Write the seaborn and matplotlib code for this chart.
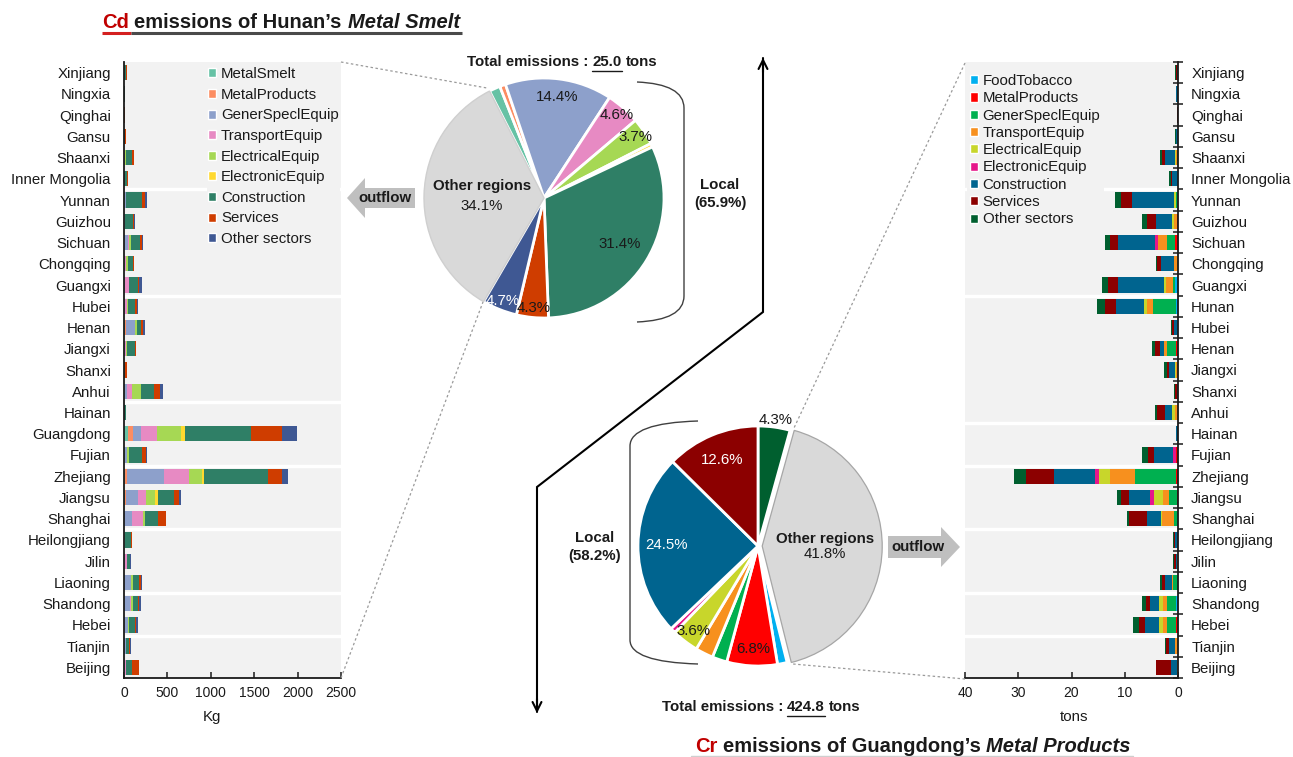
import numpy as np
import pandas as pd
import matplotlib
matplotlib.use("Agg")
import matplotlib.pyplot as plt
import seaborn as sns
from matplotlib.patches import Patch, Polygon, PathPatch
from matplotlib.path import Path
from matplotlib.ticker import FixedLocator

# ---------------- data ----------------
sectors = ["MetalSmelt", "MetalProducts", "GenerSpeclEquip", "TransportEquip",
           "ElectricalEquip", "ElectronicEquip", "Construction", "Services", "Other sectors"]
cr_sectors = ["FoodTobacco", "MetalProducts", "GenerSpeclEquip", "TransportEquip",
              "ElectricalEquip", "ElectronicEquip", "Construction", "Services", "Other sectors"]

# Cd embodied in Hunan's metal smelting, consumed in other regions (kg)
cd_regions = ["Xinjiang", "Ningxia", "Qinghai", "Gansu", "Shaanxi", "Inner Mongolia",
              "Yunnan", "Guizhou", "Sichuan", "Chongqing", "Guangxi",
              "Hubei", "Henan", "Jiangxi", "Shanxi", "Anhui",
              "Hainan", "Guangdong", "Fujian",
              "Zhejiang", "Jiangsu", "Shanghai",
              "Heilongjiang", "Jilin", "Liaoning",
              "Shandong", "Hebei", "Tianjin", "Beijing"]
cd_metal_smelt = [0, 0, 0, 0, 3, 0, 15, 5, 5, 3, 8, 5, 8, 3, 0, 12, 0, 50, 10, 10, 8, 5, 8, 5, 5, 5, 5, 5, 5]
cd_metal_products = [0, 0, 0, 0, 0, 0, 0, 0, 0, 0, 0, 0, 15, 0, 0, 0, 0, 50, 0, 20, 15, 0, 0, 0, 0, 0, 0, 0, 0]
cd_gener_specl = [0, 0, 0, 0, 5, 0, 5, 3, 38, 5, 5, 8, 100, 5, 0, 25, 0, 92, 25, 432, 138, 85, 5, 5, 75, 60, 40, 15, 5]
cd_transport = [0, 0, 0, 0, 8, 3, 0, 5, 20, 18, 40, 22, 8, 15, 0, 60, 0, 188, 5, 288, 92, 134, 0, 27, 5, 18, 0, 0, 15]
cd_electrical = [0, 0, 0, 0, 5, 0, 3, 3, 15, 15, 3, 8, 20, 10, 0, 95, 0, 273, 12, 150, 108, 15, 0, 0, 20, 22, 12, 8, 0]
cd_electronic = [0, 0, 0, 0, 0, 0, 0, 0, 3, 0, 0, 0, 0, 0, 0, 3, 0, 54, 3, 18, 25, 0, 0, 0, 0, 0, 0, 0, 0]
cd_construction = [20, 10, 5, 15, 70, 30, 190, 85, 103, 60, 100, 88, 40, 95, 12, 150, 18, 757, 155, 745, 188, 150, 70, 27, 70, 55, 65, 35, 65]
cd_services = [10, 3, 2, 7, 20, 12, 27, 18, 25, 12, 16, 15, 25, 5, 18, 70, 2, 353, 38, 154, 65, 95, 8, 10, 18, 18, 15, 10, 88]
cd_other = [5, 2, 1, 3, 4, 5, 27, 6, 10, 5, 30, 12, 22, 8, 5, 30, 2, 180, 22, 73, 18, 0, 2, 5, 10, 22, 22, 5, 0]

# Cr embodied in Guangdong's metal products, consumed in other regions (tons)
cr_regions = ["Xinjiang", "Ningxia", "Qinghai", "Gansu", "Shaanxi", "Inner Mongolia",
              "Yunnan", "Guizhou", "Sichuan", "Chongqing", "Guangxi",
              "Hunan", "Hubei", "Henan", "Jiangxi", "Shanxi", "Anhui",
              "Hainan", "Fujian",
              "Zhejiang", "Jiangsu", "Shanghai",
              "Heilongjiang", "Jilin", "Liaoning",
              "Shandong", "Hebei", "Tianjin", "Beijing"]
cr_food = [0, 0, 0, 0, 0, 0, 0.25, 0, 0, 0, 0.5, 0.45, 0, 0, 0, 0, 0, 0, 0, 0, 0, 0, 0, 0, 0, 0.45, 0, 0, 0]
cr_metal_products = [0, 0, 0, 0, 0.05, 0, 0, 0.25, 0.5, 0, 0, 0, 0, 0.45, 0, 0, 0, 0, 0.4, 0.4, 0.25, 0, 0, 0, 0, 0, 0.45, 0, 0]
cr_gener_specl = [0, 0, 0, 0, 0.05, 0, 0.05, 0, 1.5, 0, 0.5, 4.3, 0, 1.7, 0, 0, 0, 0, 0, 7.6, 1.45, 0.75, 0, 0, 0.9, 1.7, 1.7, 0, 0]
cr_transport = [0, 0, 0, 0.05, 0.3, 0.05, 0.1, 0.5, 1.75, 0.75, 1.25, 1.1, 0.05, 0.5, 0.3, 0, 0.5, 0, 0, 4.85, 1.2, 2.25, 0, 0.15, 0.3, 0.6, 0.75, 0.5, 0.25]
cr_electrical = [0, 0, 0, 0, 0.1, 0, 0.4, 0.35, 0, 0, 0.4, 0.6, 0, 0, 0.2, 0, 0.7, 0, 0, 1.9, 1.55, 0.1, 0, 0, 0, 0.8, 0.7, 0, 0]
cr_electronic = [0, 0, 0, 0, 0, 0, 0, 0, 0.6, 0, 0, 0, 0, 0, 0, 0, 0, 0, 0.6, 0.8, 0.8, 0, 0, 0, 0, 0, 0, 0, 0]
cr_construction = [0.15, 0.3, 0.08, 0.35, 1.95, 1.05, 7.8, 3.1, 6.85, 2.45, 8.7, 5.1, 0.7, 0.75, 1.1, 0.2, 1.2, 0.3, 3.45, 7.8, 3.9, 2.8, 0.6, 0.25, 1.25, 1.8, 2.6, 1.1, 1.1]
cr_services = [0.3, 0.05, 0.02, 0.05, 0.5, 0.25, 2.1, 1.6, 1.55, 0.7, 1.75, 2.25, 0.4, 0.9, 0.5, 0.4, 1.45, 0.05, 1.25, 5.2, 1.55, 3.3, 0.2, 0.4, 0.5, 0.75, 1.1, 0.7, 2.75]
cr_other = [0.05, 0.05, 0, 0.05, 0.45, 0.25, 1.1, 0.95, 1.05, 0.25, 1.25, 1.5, 0.25, 0.5, 0.5, 0.15, 0.45, 0.05, 1.05, 2.2, 0.8, 0.45, 0.1, 0.2, 0.45, 0.65, 1.1, 0.15, 0]

# Pie shares (%)
cd_pie_labels = sectors + ["Other regions"]
cd_pie_shares = [1.5, 0.8, 14.4, 4.6, 3.7, 0.5, 31.4, 4.3, 4.7, 34.1]
cd_total, cd_local = "25.0", "65.9%"

cr_pie_labels = ["Other sectors", "Other regions", "FoodTobacco", "MetalProducts", "GenerSpeclEquip",
                 "TransportEquip", "ElectricalEquip", "ElectronicEquip", "Construction", "Services"]
cr_pie_shares = [4.3, 41.8, 1.3, 6.8, 2.0, 2.4, 3.6, 0.7, 24.5, 12.6]
cr_total, cr_local = "424.8", "58.2%"

# ---------------- colours ----------------
set2 = sns.color_palette("Set2", 6)
cd_colors = dict(zip(sectors, list(set2) + ["#2f7f66", "#cf3d00", "#3f5893"]))
cd_colors["Other regions"] = "#d9d9d9"
cr_colors = dict(zip(cr_sectors, ["#00b0f0", "#ff0000", "#00b050", "#f7901e", "#c8d62b",
                                  "#e6178a", "#00648f", "#8c0000", "#005f2f"]))
cr_colors["Other regions"] = "#d9d9d9"

# ---------------- figure ----------------
sns.set_theme(style="white")
plt.rcParams["font.family"] = ["Liberation Sans", "DejaVu Sans"]
plt.rcParams["text.color"] = "#1a1a1a"

W, H = 1293, 757
fig = plt.figure(figsize=(W / 100, H / 100), dpi=100)
FS = 10.8


def axes_px(x0, y0, x1, y1):
    return fig.add_axes([x0 / W, 1 - y1 / H, (x1 - x0) / W, (y1 - y0) / H])


def draw_stacked(ax, regions, series, palette):
    frame = pd.DataFrame(series, index=regions)
    cum = frame.cumsum(axis=1)
    for sector in reversed(list(frame.columns)):
        sns.barplot(x=cum[sector].to_numpy(), y=regions, order=regions, orient="h",
                    color=palette[sector], width=0.72, saturation=1, linewidth=0,
                    errorbar=None, ax=ax)


def style_bars(ax, regions, separators, side):
    n = len(regions)
    ax.set_facecolor("#f2f2f2")
    ax.set_ylim(n - 0.5, -0.5)
    ax.set_ylabel("")
    for s in ax.spines.values():
        s.set_visible(False)
    for s in (side, "bottom"):
        ax.spines[s].set_visible(True)
        ax.spines[s].set_color("#1a1a1a")
        ax.spines[s].set_linewidth(1.3)
    for y in separators:
        ax.axhline(y, color="white", lw=2.4, zorder=0.8)
    ax.yaxis.set_minor_locator(FixedLocator(np.arange(-0.5, n, 1.0)))
    if side == "right":
        ax.yaxis.set_ticks_position("right")
        ax.tick_params(axis="y", which="both", left=False, right=True,
                       labelleft=False, labelright=True)
    ax.tick_params(axis="y", which="major", length=0, pad=9.5, labelsize=FS, labelcolor="#1a1a1a")
    ax.tick_params(axis="y", which="minor", length=7, width=1.1, direction="inout", color="#1a1a1a")
    ax.tick_params(axis="x", which="major", length=4, width=1.1, direction="in",
                   labelsize=10, pad=6, color="#1a1a1a", labelcolor="#1a1a1a", bottom=True)
    ax.grid(False)


# --- left: Cd outflow bars ---
ax_cd = axes_px(124, 62, 341, 678)
cd_series = dict(zip(sectors, [cd_metal_smelt, cd_metal_products, cd_gener_specl, cd_transport,
                               cd_electrical, cd_electronic, cd_construction, cd_services, cd_other]))
draw_stacked(ax_cd, cd_regions, cd_series, cd_colors)
style_bars(ax_cd, cd_regions, [5.5, 10.5, 15.5, 18.5, 21.5, 24.5, 26.5], "left")
ax_cd.set_xlim(0, 2500)
ax_cd.set_xticks([0, 500, 1000, 1500, 2000, 2500])
ax_cd.set_xlabel("Kg", fontsize=FS, color="#1a1a1a")
ax_cd.xaxis.set_label_coords((212 - 124) / 217, -(710 - 678) / 616)
ax_cd.legend(handles=[Patch(facecolor=cd_colors[s], label=s) for s in sectors],
             loc="upper left", bbox_to_anchor=(207 / W, 1 - 66 / H), bbox_transform=fig.transFigure,
             frameon=True, facecolor="#f2f2f2", edgecolor="none", framealpha=1, fancybox=False,
             fontsize=FS, handlelength=0.55, handleheight=0.55, handletextpad=0.3,
             labelspacing=0.44, borderpad=0.08, borderaxespad=0)

# --- right: Cr outflow bars ---
ax_cr = axes_px(965, 62, 1178, 678)
cr_series = dict(zip(cr_sectors, [cr_food, cr_metal_products, cr_gener_specl, cr_transport,
                                  cr_electrical, cr_electronic, cr_construction, cr_services, cr_other]))
draw_stacked(ax_cr, cr_regions, cr_series, cr_colors)
style_bars(ax_cr, cr_regions, [5.5, 10.5, 16.5, 18.5, 21.5, 24.5, 26.5], "right")
ax_cr.set_xlim(40, 0)
ax_cr.set_xticks([40, 30, 20, 10, 0])
ax_cr.set_xlabel("tons", fontsize=FS, color="#1a1a1a")
ax_cr.xaxis.set_label_coords((1074 - 965) / 213, -(710 - 678) / 616)
ax_cr.legend(handles=[Patch(facecolor=cr_colors[s], label=s) for s in cr_sectors],
             loc="upper left", bbox_to_anchor=(967 / W, 1 - 71 / H), bbox_transform=fig.transFigure,
             frameon=True, facecolor="#f2f2f2", edgecolor="none", framealpha=1, fancybox=False,
             fontsize=FS, handlelength=0.55, handleheight=0.55, handletextpad=0.3,
             labelspacing=0.22, borderpad=0.2, borderaxespad=0)


# --- pies ---
def draw_pie(cx, cy, r, labels, shares, palette, start, explode_other):
    ax = axes_px(cx - 150, cy - 150, cx + 150, cy + 150)
    explode = [explode_other if l == "Other regions" else 0 for l in labels]
    wedges, _ = ax.pie(shares, colors=[palette[l] for l in labels], startangle=start,
                       counterclock=False, radius=1, explode=explode,
                       wedgeprops=dict(edgecolor="white", linewidth=2))
    lim = 150 / r
    ax.set_xlim(-lim, lim)
    ax.set_ylim(-lim, lim)
    ax.set_aspect("equal")
    ax.axis("off")
    return ax, wedges


def wedge_label(ax, wedge, text, rad, color="#1a1a1a", dy=0, weight="normal"):
    ang = np.deg2rad((wedge.theta1 + wedge.theta2) / 2)
    ax.annotate(text, xy=(rad * np.cos(ang), rad * np.sin(ang)), xytext=(0, dy),
                textcoords="offset points", ha="center", va="center",
                fontsize=FS, color=color, fontweight=weight)


ax_p1, w1 = draw_pie(544, 198, 120, cd_pie_labels, cd_pie_shares, cd_colors, 117, 0)
w1[-1].set_edgecolor("#cfcfcf")
w1[-1].set_linewidth(1)
for i, rad, col in [(2, 0.85, "#1a1a1a"), (3, 0.92, "#1a1a1a"), (4, 0.92, "#1a1a1a"),
                    (6, 0.74, "#1a1a1a"), (7, 0.92, "#1a1a1a"), (8, 0.92, "white")]:
    wedge_label(ax_p1, w1[i], f"{cd_pie_shares[i]}%", rad, col)
wedge_label(ax_p1, w1[-1], "Other regions", 0.52, dy=7.5, weight="bold")
wedge_label(ax_p1, w1[-1], f"{cd_pie_shares[-1]}%", 0.52, dy=-7)

ax_p2, w2 = draw_pie(758, 546, 120, cr_pie_labels, cr_pie_shares, cr_colors, 90, 0.035)
w2[1].set_edgecolor("#a6a6a6")
w2[1].set_linewidth(0.9)
for i, rad, col in [(0, 1.06, "#1a1a1a"), (3, 0.86, "#1a1a1a"), (6, 0.89, "#1a1a1a"),
                    (8, 0.76, "white"), (9, 0.78, "white")]:
    wedge_label(ax_p2, w2[i], f"{cr_pie_shares[i]}%", rad, col)
wedge_label(ax_p2, w2[1], "Other regions", 0.56, dy=6, weight="bold")
wedge_label(ax_p2, w2[1], f"{cr_pie_shares[1]}%", 0.56, dy=-5.5)

# ---------------- annotation layer (pixel coordinates) ----------------
ov = fig.add_axes([0, 0, 1, 1])
ov.set_xlim(0, W)
ov.set_ylim(H, 0)
ov.axis("off")
renderer = fig.canvas.get_renderer()


def text_width(s, size, style="normal", weight="bold"):
    t = ov.text(0, 0, s, fontsize=size, fontweight=weight, fontstyle=style)
    w = t.get_window_extent(renderer).width
    t.remove()
    return w


def rich_line(x, y, parts, size, center=False):
    """parts: (text, color, style); words joined by single spaces."""
    sp = text_width("i i", size) - text_width("ii", size)
    widths = [text_width(s, size, st) for s, _, st in parts]
    total = sum(widths) + sp * (len(parts) - 1)
    pos = x - total / 2 if center else x
    spans = []
    for (s, c, st), w in zip(parts, widths):
        ov.text(pos, y, s, fontsize=size, fontweight="bold", fontstyle=st, color=c,
                ha="left", va="center")
        spans.append((pos, pos + w))
        pos += w + sp
    return spans


# titles
sp1 = rich_line(102, 22, [("Cd", "#c00000", "normal"), ("emissions of Hunan’s", "#1a1a1a", "normal"),
                          ("Metal Smelt", "#1a1a1a", "italic")], 14.5)
ov.plot([sp1[0][0], sp1[0][1] + 2], [32.5, 32.5], color="#d42020", lw=2.2, solid_capstyle="butt")
ov.plot([sp1[0][1] + 2, sp1[-1][1] + 2], [32.5, 32.5], color="#4a4a4a", lw=2.2, solid_capstyle="butt")

sp2 = rich_line(695, 747, [("Cr", "#c00000", "normal"), ("emissions of Guangdong’s", "#1a1a1a", "normal"),
                           ("Metal Products", "#1a1a1a", "italic")], 14.5)
ov.plot([sp2[0][0] - 4, sp2[-1][1] + 2], [756.3, 756.3], color="#cfcfcf", lw=1)

# total emissions
for cx, cy, val in [(562, 62, cd_total), (761, 707, cr_total)]:
    sp = rich_line(cx, cy, [("Total emissions :", "#1a1a1a", "normal"), (val, "#1a1a1a", "normal"),
                            ("tons", "#1a1a1a", "normal")], FS, center=True)
    ov.plot([sp[1][0], sp[1][1]], [cy + 8.5, cy + 8.5], color="#1a1a1a", lw=1)

# local brackets
br1 = Path([(637, 82), (684, 84), (684, 108), (684, 296), (684, 320), (637, 322)],
           [Path.MOVETO, Path.CURVE3, Path.CURVE3, Path.LINETO, Path.CURVE3, Path.CURVE3])
ov.add_patch(PathPatch(br1, facecolor="none", edgecolor="#404040", lw=1))
ov.text(720, 194, f"Local\n({cd_local})", fontsize=FS, fontweight="bold", ha="center", va="center",
        linespacing=1.35)

br2 = Path([(698, 421), (630, 423), (630, 446), (630, 640), (630, 662), (698, 664)],
           [Path.MOVETO, Path.CURVE3, Path.CURVE3, Path.LINETO, Path.CURVE3, Path.CURVE3])
ov.add_patch(PathPatch(br2, facecolor="none", edgecolor="#404040", lw=1))
ov.text(595, 547, f"Local\n({cr_local})", fontsize=FS, fontweight="bold", ha="center", va="center",
        linespacing=1.35)

# outflow arrows
ov.add_patch(Polygon([(415, 188), (365, 188), (365, 178), (347, 198), (365, 218), (365, 208), (415, 208)],
                     closed=True, facecolor="#bfbfbf", edgecolor="none"))
ov.text(385, 198, "outflow", fontsize=FS, fontweight="bold", ha="center", va="center")
ov.add_patch(Polygon([(888, 536), (941, 536), (941, 527), (960, 547), (941, 567), (941, 558), (888, 558)],
                     closed=True, facecolor="#bfbfbf", edgecolor="none"))
ov.text(918, 547, "outflow", fontsize=FS, fontweight="bold", ha="center", va="center")

# dotted connectors between pies and bar panels
dot = dict(color="#9a9a9a", lw=0.9, ls=(0, (2, 2)))
ov.plot([341, 487], [62, 88], **dot)
ov.plot([341, 483], [678, 302], **dot)
ov.plot([965, 794], [63, 428], **dot)
ov.plot([965, 793], [679, 664], **dot)

# the dividing arrow
ov.plot([763, 763, 537, 537], [58, 312, 487, 712], color="black", lw=1.5, solid_joinstyle="miter")
ov.annotate("", xy=(763, 55), xytext=(763, 75),
            arrowprops=dict(arrowstyle="->", lw=1.5, color="black", mutation_scale=16))
ov.annotate("", xy=(537, 716), xytext=(537, 696),
            arrowprops=dict(arrowstyle="->", lw=1.5, color="black", mutation_scale=16))

fig.savefig("out.png", dpi=100)
